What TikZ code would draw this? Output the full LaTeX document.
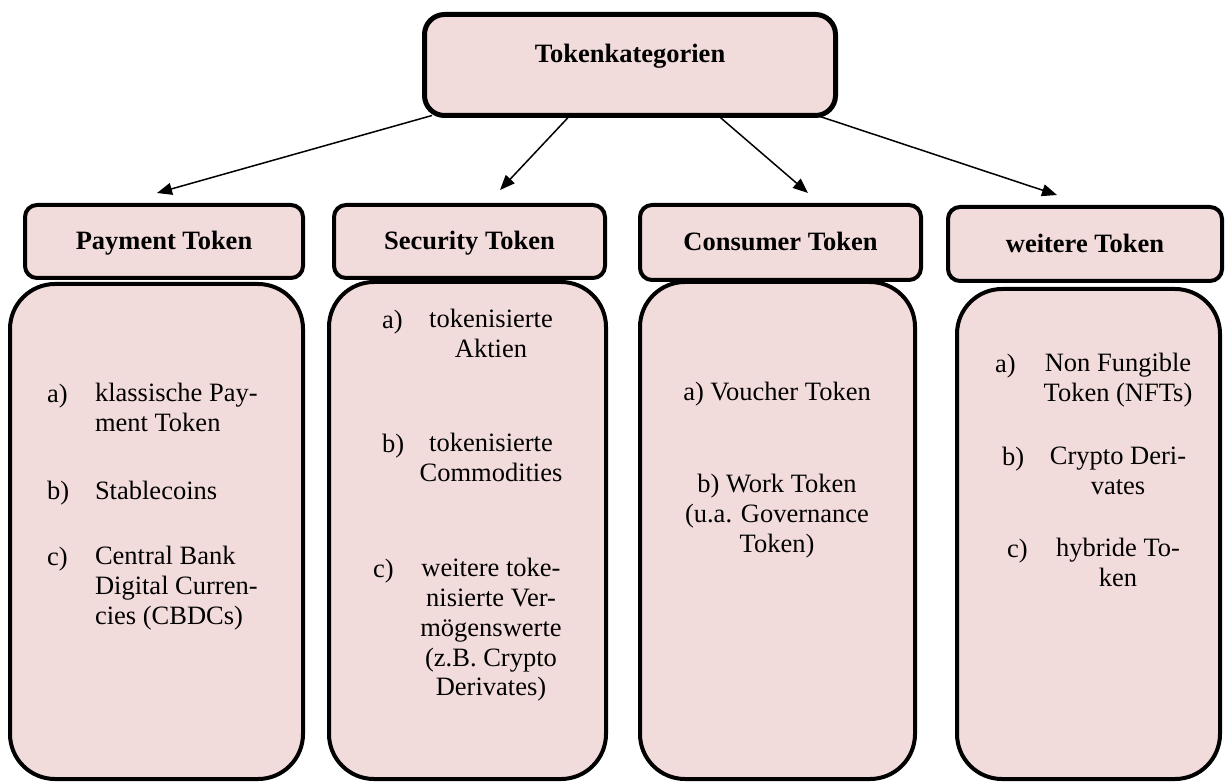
\documentclass[tikz,border=0pt]{standalone}
\usepackage{fontspec}
\setmainfont{Liberation Serif}
\usetikzlibrary{arrows.meta,calc}
\definecolor{boxfill}{RGB}{242,220,219}
\begin{document}
\begin{tikzpicture}[x=1pt,y=-1pt,
  every node/.style={inner sep=0pt, outer sep=0pt},
  txt/.style={font=\fontsize{26.5}{29.7}\selectfont},
  bold/.style={font=\fontsize{26.5}{29.7}\selectfont\bfseries},
  topbox/.style={draw, line width=5pt, fill=boxfill, rounded corners=20pt},
  headbox/.style={draw, line width=4pt, fill=boxfill, rounded corners=12pt, bold, text height=17pt, text depth=0pt},
  bodybox/.style={draw, line width=4pt, fill=boxfill, rounded corners=45pt},
  conn/.style={line width=1.5pt, -{Triangle[length=15pt,width=12pt]}},
  lbl/.style={txt, anchor=base west},
  itemc/.style={txt, anchor=north, align=center},
  iteml/.style={txt, anchor=north west, align=left},
]
\useasboundingbox (0,0) rectangle (1225,783);

% boxes (coordinates only for arrows first)
\path node[minimum width=411pt, minimum height=101pt] (topc) at (630,65) {};
\path node[minimum width=278pt, minimum height=73pt] (h1c) at (164,241.5) {};
\path node[minimum width=271pt, minimum height=73pt] (h2c) at (469.5,241.5) {};
\path node[minimum width=281pt, minimum height=75pt] (h3c) at (780.5,242.5) {};
\path node[minimum width=274pt, minimum height=74pt] (h4c) at (1085,244) {};

% connectors
\draw[conn] ($(topc.south)+(-198,0)$) -- ($(h1c.north)+(-7,-12)$);
\draw[conn] ($(topc.south)+(-60,0)$) -- ($(h2c.north)+(30.5,-15)$);
\draw[conn] ($(topc.south)+(88,0)$) -- ($(h3c.north)+(27.5,-12)$);
\draw[conn] ($(topc.south)+(187,0)$) -- ($(h4c.north)+(-28,-12)$);

% top box
\node[topbox, minimum width=411pt, minimum height=101pt] (top) at (630,65) {};
\node[bold, anchor=base] (toptitle) at (630,63) {Tokenkategorien};

% body boxes
\node[bodybox, minimum width=293pt, minimum height=495pt] (b1) at (156.5,531.5) {};
\node[bodybox, minimum width=277pt, minimum height=497pt] (b2) at (467.5,530.5) {};
\node[bodybox, minimum width=275pt, minimum height=497pt] (b3) at (777.5,530.5) {};
\node[bodybox, minimum width=263pt, minimum height=490pt] (b4) at (1088.5,534) {};

% heading boxes
\node[headbox, minimum width=278pt, minimum height=73pt] (h1) at (164,241.5) {Payment Token};
\node[headbox, minimum width=271pt, minimum height=73pt] (h2) at (469.5,241.5) {Security Token};
\node[headbox, minimum width=281pt, minimum height=75pt] (h3) at (780.5,242.5) {Consumer Token};
\node[headbox, minimum width=274pt, minimum height=74pt] (h4) at (1085,244) {weitere Token};

% Payment Token items
\node[lbl] (p1l) at (47,402) {a)};
\node[iteml] (p1) at (95,381.2) {\strut klassische Pay-\\ment Token};
\node[lbl] (p2l) at (47,499) {b)};
\node[lbl] (p2) at (95,499) {Stablecoins};
\node[lbl] (p3l) at (47,565) {c)};
\node[iteml] (p3) at (95,544.2) {\strut Central Bank\\Digital Curren-\\cies (CBDCs)};

% Security Token items
\node[lbl] (s1l) at (382,328) {a)};
\node[itemc] (s1) at (491,307.2) {\strut tokenisierte\\Aktien};
\node[lbl] (s2l) at (382,452) {b)};
\node[itemc] (s2) at (491,431.2) {\strut tokenisierte\\Commodities};
\node[lbl] (s3l) at (373,577) {c)};
\node[itemc] (s3) at (491,556.2) {\strut weitere toke-\\nisierte Ver-\\mögenswerte\\(z.B. Crypto\\Derivates)};

% Consumer Token items
\node[txt, anchor=base] (c1) at (777,400) {a) Voucher Token};
\node[itemc] (c2) at (777,472.2) {\strut b) Work Token\\(u.a. Governance\\Token)};

% weitere Token items
\node[lbl] (w1l) at (995,372) {a)};
\node[itemc] (w1) at (1118,351.2) {\strut Non Fungible\\Token (NFTs)};
\node[lbl] (w2l) at (1002,465) {b)};
\node[itemc] (w2) at (1118,444.2) {\strut Crypto Deri-\\vates};
\node[lbl] (w3l) at (1007,557) {c)};
\node[itemc] (w3) at (1118,536.2) {\strut hybride To-\\ken};
\end{tikzpicture}
\end{document}
